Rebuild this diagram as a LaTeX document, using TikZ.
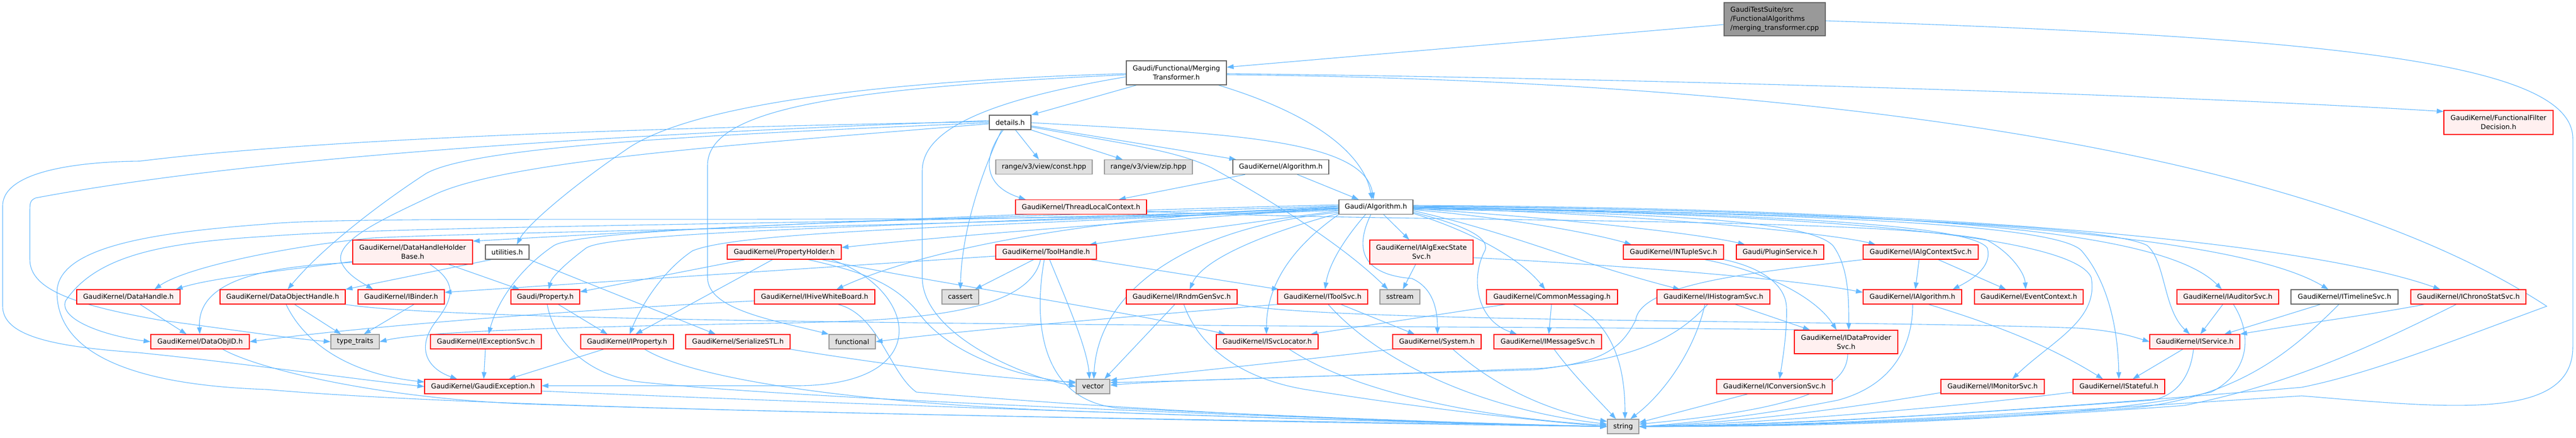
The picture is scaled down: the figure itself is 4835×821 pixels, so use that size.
\documentclass[tikz,border=0pt]{standalone}
\usepackage{fontspec}
\setmainfont{DejaVu Sans}
\usetikzlibrary{arrows.meta,backgrounds}
\definecolor{edgeblue}{HTML}{63B8FF}
\definecolor{redfill}{HTML}{FFF0F0}
\definecolor{grayfill}{HTML}{E0E0E0}
\definecolor{grayline}{HTML}{999999}
\definecolor{darkline}{HTML}{666666}
\definecolor{rootfill}{HTML}{999999}

\begin{document}
\begin{tikzpicture}[x=1pt,y=-1pt]
\tikzstyle{box} = [rectangle, inner sep=0pt, minimum height=27pt, line width=1.3pt,
align=center, font=\fontsize{12.8}{16.7}\selectfont]
\tikzstyle{redbox} = [box, draw=red, fill=redfill]
\tikzstyle{graybox} = [box, draw=grayline, fill=grayfill]
\tikzstyle{whitebox} = [box, draw=darkline, fill=white]
\tikzstyle{rootbox} = [box, draw=darkline, fill=rootfill, align=left]
\tikzstyle{line} = [draw=edgeblue, line width=1.1pt, -{Triangle[length=12.8pt,width=9pt]}]
\useasboundingbox (0,0) rectangle (4835,821);

% row 1
\node[rootbox, minimum width=190pt, minimum height=62pt] (root) at (3331,36) {GaudiTestSuite/src\\/FunctionalAlgorithms\\/merging\_transformer.cpp};
\node[whitebox, minimum width=188pt, minimum height=45pt] (merging) at (2208,136.5) {Gaudi/Functional/Merging\\Transformer.h};
\node[whitebox, minimum width=78pt] (details) at (1896,229.5) {details.h};
\node[redbox, minimum width=205pt, minimum height=45pt] (filterdec) at (4689.5,229.5) {GaudiKernel/FunctionalFilter\\Decision.h};
% row 2
\node[graybox, minimum width=181pt] (rconst) at (1959.5,313) {range/v3/view/const.hpp};
\node[graybox, minimum width=165pt] (rzip) at (2155.5,313) {range/v3/view/zip.hpp};
\node[whitebox, minimum width=180pt] (kalgo) at (2404,313) {GaudiKernel/Algorithm.h};
\node[redbox, minimum width=246pt] (tlc) at (2029,388) {GaudiKernel/ThreadLocalContext.h};
\node[whitebox, minimum width=139pt] (galgo) at (2582.5,388) {Gaudi/Algorithm.h};
% row 3
\node[redbox, minimum width=225pt, minimum height=45pt] (dhhb) at (774.5,472.5) {GaudiKernel/DataHandleHolder\\Base.h};
\node[whitebox, minimum width=82pt] (utils) at (952,472.5) {utilities.h};
\node[redbox, minimum width=214pt] (propholder) at (1472,472.5) {GaudiKernel/PropertyHolder.h};
\node[redbox, minimum width=189pt] (toolhandle) at (1963.5,472.5) {GaudiKernel/ToolHandle.h};
\node[redbox, minimum width=194pt, minimum height=45pt] (execstate) at (2668,472.5) {GaudiKernel/IAlgExecState\\Svc.h};
\node[redbox, minimum width=188pt] (ntuple) at (3141,472.5) {GaudiKernel/INTupleSvc.h};
\node[redbox, minimum width=164pt] (plugin) at (3341,472.5) {Gaudi/PluginService.h};
\node[redbox, minimum width=216pt] (algctx) at (3605,472.5) {GaudiKernel/IAlgContextSvc.h};
% row 4
\node[redbox, minimum width=194pt] (dhandle) at (241,556.5) {GaudiKernel/DataHandle.h};
\node[redbox, minimum width=235pt] (dobjhandle) at (530.5,556.5) {GaudiKernel/DataObjectHandle.h};
\node[redbox, minimum width=162pt] (binder) at (753,556.5) {GaudiKernel/IBinder.h};
\node[redbox, minimum width=129pt] (gprop) at (1023.5,556.5) {Gaudi/Property.h};
\node[redbox, minimum width=226pt] (whiteboard) at (1529,556.5) {GaudiKernel/IHiveWhiteBoard.h};
\node[graybox, minimum width=69pt] (cassert) at (1802.5,556.5) {cassert};
\node[redbox, minimum width=208pt] (rndm) at (2218,556.5) {GaudiKernel/IRndmGenSvc.h};
\node[redbox, minimum width=169pt] (toolsvc) at (2482.5,556.5) {GaudiKernel/IToolSvc.h};
\node[graybox, minimum width=75pt] (sstream) at (2627.5,556.5) {sstream};
\node[redbox, minimum width=246pt] (commonmsg) at (2913,556.5) {GaudiKernel/CommonMessaging.h};
\node[redbox, minimum width=212pt] (histo) at (3216,556.5) {GaudiKernel/IHistogramSvc.h};
\node[redbox, minimum width=185pt] (ialgo) at (3589.5,556.5) {GaudiKernel/IAlgorithm.h};
\node[redbox, minimum width=204pt] (evctx) at (3808,556.5) {GaudiKernel/EventContext.h};
\node[redbox, minimum width=191pt] (auditor) at (4181.5,556.5) {GaudiKernel/IAuditorSvc.h};
\node[whitebox, minimum width=201pt] (timeline) at (4400.5,556.5) {GaudiKernel/ITimelineSvc.h};
\node[redbox, minimum width=216pt] (chrono) at (4633,556.5) {GaudiKernel/IChronoStatSvc.h};
% row 5
\node[redbox, minimum width=185pt] (objid) at (375.5,640.5) {GaudiKernel/DataObjID.h};
\node[graybox, minimum width=91pt] (typetraits) at (666.5,640.5) {type\_traits};
\node[redbox, minimum width=208pt] (excsvc) at (912,640.5) {GaudiKernel/IExceptionSvc.h};
\node[redbox, minimum width=174pt] (iprop) at (1177,640.5) {GaudiKernel/IProperty.h};
\node[redbox, minimum width=196pt] (serialize) at (1385,640.5) {GaudiKernel/SerializeSTL.h};
\node[graybox, minimum width=87pt] (functional) at (1599.5,640.5) {functional};
\node[redbox, minimum width=191pt] (svcloc) at (2378.5,640.5) {GaudiKernel/ISvcLocator.h};
\node[redbox, minimum width=166pt] (system) at (2697,640.5) {GaudiKernel/System.h};
\node[redbox, minimum width=202pt] (msgsvc) at (2905,640.5) {GaudiKernel/IMessageSvc.h};
\node[redbox, minimum width=194pt, minimum height=44pt] (dataprov) at (3465,641) {GaudiKernel/IDataProvider\\Svc.h};
\node[redbox, minimum width=169pt] (iservice) at (4119.5,640.5) {GaudiKernel/IService.h};
% row 6
\node[redbox, minimum width=219pt] (gexc) at (906.5,724.5) {GaudiKernel/GaudiException.h};
\node[graybox, minimum width=63pt] (vector) at (2051.5,724.5) {vector};
\node[redbox, minimum width=217pt] (convsvc) at (3330.5,724.5) {GaudiKernel/IConversionSvc.h};
\node[redbox, minimum width=194pt] (monitor) at (3740,724.5) {GaudiKernel/IMonitorSvc.h};
\node[redbox, minimum width=172pt] (stateful) at (3977,724.5) {GaudiKernel/IStateful.h};
% row 7
\node[graybox, minimum width=59pt] (string) at (3046.5,799.5) {string};

\begin{pgfonlayer}{background}
% root file
\path[line] (root.west |- 0,46) -- (merging.east |- 0,126);
\path[line] (root.east |- 0,39) .. controls (4400,70) and (4829,120) .. (4829,260) -- (4829,650)
  .. controls (4829,790) and (4600,765) .. (4320,742) .. controls (3800,775) and (3400,800) .. (string.east);
% merging transformer
\path[line] (merging.south -| 2133,0) -- (details.north east);
\path[line] (merging.south -| 2287,0) .. controls (2470,215) and (2560,290) .. (galgo.north -| 2575,0);
\path[line] (merging.east |- 0,138) .. controls (3300,150) and (4200,185) .. (filterdec.west |- 0,209);
\path[line] (merging.east |- 0,140) .. controls (3300,150) and (4300,260) .. (4780,574)
  .. controls (4600,640) and (4450,700) .. (4320,726) .. controls (3800,770) and (3400,795) .. (string.east);
\path[line] (merging.west |- 0,138) .. controls (1700,150) and (1300,190) .. (1173,282)
  .. controls (1080,345) and (990,420) .. (utils.north -| 970,0);
\path[line] (merging.west |- 0,140) .. controls (1600,165) and (1328,200) .. (1328,310) -- (1328,520)
  .. controls (1328,580) and (1450,600) .. (functional.north west);
\path[line] (merging.west |- 0,144) .. controls (1900,180) and (1731,230) .. (1731,320) -- (1731,520)
  .. controls (1731,620) and (1900,700) .. (vector.west);
% details
\path[line] (details.south -| 1906,0) -- (rconst.north -| 1950,0);
\path[line] (details.south east) -- (rzip.north -| 2107,0);
\path[line] (details.east |- 0,236) -- (kalgo.north -| 2320,0);
\path[line] (details.east |- 0,230) .. controls (2300,250) and (2560,260) .. (galgo.north -| 2578,0);
\path[line] (details.east |- 0,238) .. controls (2100,268) and (2210,282) .. (2275,315)
  .. controls (2330,345) and (2500,440) .. (sstream.north -| 2605,0);
\path[line] (details.south -| 1883,0) .. controls (1840,300) and (1850,350) .. (tlc.north -| 1925,0);
\path[line] (details.south -| 1880,0) .. controls (1830,350) and (1805,450) .. (cassert.north);
\path[line] (details.west |- 0,230) .. controls (1400,250) and (900,270) .. (800,325)
  .. controls (700,390) and (600,470) .. (dobjhandle.north -| 540,0);
\path[line] (details.west |- 0,232) .. controls (1400,270) and (950,300) .. (813,366)
  .. controls (720,410) and (630,450) .. (640,490) .. controls (650,515) and (680,530) .. (binder.north -| 700,0);
\path[line] (details.west |- 0,228) .. controls (1200,240) and (600,260) .. (263,302)
  .. controls (150,303) and (5,320) .. (5,386) -- (5,574) .. controls (5,630) and (100,650) .. (260,661)
  .. controls (450,680) and (700,715) .. (gexc.west);
\path[line] (details.west |- 0,226) .. controls (1200,250) and (500,290) .. (67,371)
  .. controls (56,376) and (56,380) .. (56,400) -- (56,486) .. controls (56,540) and (130,570) .. (300,600)
  .. controls (450,620) and (550,635) .. (typetraits.west);
% GaudiKernel/Algorithm.h and ThreadLocalContext.h
\path[line] (kalgo.south -| 2337,0) -- (tlc.north -| 2100,0);
\path[line] (kalgo.south -| 2435,0) -- (galgo.north -| 2550,0);
\path[line] (tlc.east |- 0,396) .. controls (2600,418) and (3500,405) .. (3727,449)
  .. controls (3770,470) and (3800,510) .. (evctx.north -| 3802,0);
% Gaudi/Algorithm.h, to the left
\path[line] (galgo.west |- 0,395) -- (toolhandle.north -| 2045,0);
\path[line] (galgo.west |- 0,400) .. controls (2400,430) and (2260,480) .. (rndm.north -| 2233,0);
\path[line] (galgo.west |- 0,398) .. controls (2200,430) and (2060,560) .. (vector.north -| 2053,0);
\path[line] (galgo.south west) .. controls (2430,460) and (2377,530) .. (svcloc.north -| 2377,0);
\path[line] (galgo.west |- 0,391) .. controls (2200,410) and (1800,440) .. (propholder.east |- 0,464);
\path[line] (galgo.west |- 0,389) .. controls (2100,400) and (1750,460) .. (whiteboard.north -| 1570,0);
\path[line] (galgo.west |- 0,387) .. controls (1900,420) and (1150,430) .. (1100,465)
  .. controls (1060,495) and (1035,520) .. (gprop.north -| 1030,0);
\path[line] (galgo.west |- 0,390) .. controls (1900,425) and (1400,430) .. (1300,470)
  .. controls (1240,510) and (1200,580) .. (iprop.north -| 1182,0);
\path[line] (galgo.west |- 0,386) .. controls (1800,410) and (1100,425) .. (1040,460)
  .. controls (980,500) and (935,560) .. (excsvc.north -| 917,0);
\path[line] (galgo.west |- 0,384) .. controls (1800,400) and (1100,440) .. (dhhb.east |- 0,452);
\path[line] (galgo.west |- 0,392) .. controls (1800,425) and (1000,432) .. (700,446)
  .. controls (550,460) and (350,500) .. (dhandle.north -| 290,0);
\path[line] (galgo.west |- 0,390) .. controls (1800,420) and (800,420) .. (500,443)
  .. controls (300,455) and (180,480) .. (123,564) .. controls (110,600) and (200,630) .. (objid.west);
\path[line] (galgo.west |- 0,394) .. controls (1800,425) and (700,400) .. (500,420)
  .. controls (300,435) and (107,460) .. (107,548) .. controls (107,640) and (200,720) .. (500,730)
  .. controls (1000,775) and (2600,790) .. (string.west);
% Gaudi/Algorithm.h, downwards
\path[line] (galgo.south -| 2563,0) .. controls (2530,440) and (2495,490) .. (toolsvc.north -| 2487,0);
\path[line] (galgo.south -| 2573,0) .. controls (2540,470) and (2560,515) .. (2650,522)
  .. controls (2690,540) and (2698,580) .. (system.north -| 2698,0);
\path[line] (galgo.south -| 2597,0) -- (execstate.north -| 2645,0);
% Gaudi/Algorithm.h, to the right
\path[line] (galgo.east |- 0,400) .. controls (2750,430) and (2850,480) .. (commonmsg.north -| 2900,0);
\path[line] (galgo.east |- 0,398) .. controls (2720,415) and (2800,440) .. (2787,470)
  .. controls (2760,520) and (2770,600) .. (msgsvc.north -| 2847,0);
\path[line] (galgo.east |- 0,393) .. controls (2850,410) and (3000,440) .. (ntuple.north -| 3062,0);
\path[line] (galgo.east |- 0,391) .. controls (2950,410) and (3200,440) .. (plugin.north -| 3275,0);
\path[line] (galgo.east |- 0,390) .. controls (3100,400) and (3450,440) .. (algctx.north -| 3520,0);
\path[line] (galgo.east |- 0,395) .. controls (2850,440) and (2950,490) .. (histo.north -| 3153,0);
\path[line] (galgo.east |- 0,392) .. controls (3200,400) and (3400,420) .. (3440,460)
  .. controls (3470,500) and (3470,560) .. (dataprov.north -| 3470,0);
\path[line] (galgo.east |- 0,389) .. controls (3300,400) and (3700,420) .. (3730,465)
  .. controls (3740,500) and (3700,525) .. (ialgo.north -| 3665,0);
\path[line] (galgo.east |- 0,388) .. controls (3400,400) and (3950,420) .. (4030,460)
  .. controls (4065,490) and (4060,580) .. (iservice.north -| 4110,0);
\path[line] (galgo.east |- 0,389) .. controls (3400,400) and (3860,420) .. (3907,470)
  .. controls (3950,520) and (3975,600) .. (stateful.north);
\path[line] (galgo.east |- 0,390) .. controls (3400,400) and (3890,440) .. (3925,520)
  .. controls (3940,600) and (3850,640) .. (monitor.north -| 3777,0);
\path[line] (galgo.east |- 0,387) .. controls (3500,395) and (4050,420) .. (auditor.north -| 4170,0);
\path[line] (galgo.east |- 0,386) .. controls (3600,395) and (4200,440) .. (timeline.north -| 4370,0);
\path[line] (galgo.east |- 0,385) .. controls (3700,390) and (4350,460) .. (chrono.north -| 4580,0);
% left part
\path[line] (utils.south -| 922,0) -- (dobjhandle.north east);
\path[line] (utils.south east) -- (serialize.north -| 1343,0);
\path[line] (dhhb.west |- 0,490) .. controls (550,505) and (400,520) .. (dhandle.north -| 330,0);
\path[line] (dhhb.west |- 0,492) .. controls (480,500) and (370,530) .. (objid.north -| 375,0);
\path[line] (dhhb.south -| 807,0) .. controls (860,530) and (850,560) .. (820,600)
  .. controls (780,650) and (800,690) .. (gexc.north -| 858,0);
\path[line] (dhhb.south -| 842,0) -- (gprop.north -| 975,0);
\path[line] (dhandle.south -| 263,0) -- (objid.north -| 350,0);
\path[line] (objid.south -| 418,0) .. controls (480,690) and (700,745) .. (980,757)
  .. controls (1500,775) and (2600,795) .. (string.west);
\path[line] (dobjhandle.south -| 553,0) -- (typetraits.north -| 640,0);
\path[line] (dobjhandle.south -| 537,0) .. controls (570,640) and (650,700) .. (gexc.west |- 0,716);
\path[line] (dobjhandle.south east) .. controls (900,612) and (2800,610) .. (dataprov.north -| 3397,0);
\path[line] (binder.south -| 777,0) -- (typetraits.north -| 683,0);
\path[line] (gprop.south -| 1048,0) -- (iprop.north -| 1140,0);
\path[line] (gprop.south -| 1027,0) .. controls (1040,640) and (1100,700) .. (1193,715)
  .. controls (1500,750) and (2600,790) .. (string.west);
\path[line] (excsvc.south -| 911,0) -- (gexc.north -| 908,0);
\path[line] (iprop.south -| 1133,0) -- (gexc.north -| 955,0);
\path[line] (iprop.south -| 1210,0) .. controls (1300,710) and (1600,755) .. (2000,770)
  .. controls (2400,785) and (2800,795) .. (string.west);
\path[line] (serialize.south east) .. controls (1700,690) and (1900,712) .. (vector.west |- 0,716);
\path[line] (gexc.east |- 0,733) .. controls (1400,750) and (2500,790) .. (string.west);
% middle part
\path[line] (toolhandle.west |- 0,480) -- (binder.east |- 0,548);
\path[line] (toolhandle.south -| 2047,0) -- (toolsvc.north -| 2400,0);
\path[line] (toolhandle.south -| 1970,0) .. controls (2000,560) and (2040,650) .. (vector.north -| 2045,0);
\path[line] (toolhandle.south -| 1960,0) .. controls (1940,600) and (1950,750) .. (2100,765)
  .. controls (2400,780) and (2800,795) .. (string.west);
\path[line] (toolhandle.south -| 1953,0) .. controls (1930,590) and (1700,600) .. (1500,605)
  .. controls (1100,612) and (800,620) .. (typetraits.east);
\path[line] (toolhandle.south -| 1940,0) -- (cassert.north -| 1830,0);
\path[line] (propholder.south -| 1398,0) -- (gprop.east |- 0,547);
\path[line] (propholder.south -| 1450,0) -- (iprop.north -| 1193,0);
\path[line] (propholder.south -| 1543,0) .. controls (1750,530) and (2100,580) .. (svcloc.north -| 2300,0);
\path[line] (propholder.south -| 1517,0) .. controls (1620,510) and (1680,530) .. (1727,590)
  .. controls (1780,660) and (1900,705) .. (vector.west |- 0,718);
\path[line] (propholder.south -| 1560,0) .. controls (1720,540) and (1760,720) .. (1500,723) -- (gexc.east |- 0,723);
\path[line] (whiteboard.west |- 0,564) .. controls (1100,580) and (700,610) .. (objid.east);
\path[line] (whiteboard.south -| 1573,0) .. controls (1650,590) and (1670,700) .. (1720,735)
  .. controls (2200,775) and (2700,795) .. (string.west);
\path[line] (rndm.south -| 2205,0) -- (vector.north -| 2073,0);
\path[line] (rndm.south -| 2222,0) .. controls (2250,650) and (2330,710) .. (2450,730)
  .. controls (2700,770) and (2900,790) .. (string.west);
\path[line] (rndm.south east) .. controls (2500,605) and (3500,600) .. (3900,615)
  .. controls (3970,620) and (4000,630) .. (iservice.west);
\path[line] (toolsvc.south -| 2517,0) -- (system.north -| 2655,0);
\path[line] (toolsvc.south -| 2493,0) .. controls (2600,690) and (2800,770) .. (string.west |- 0,795);
\path[line] (toolsvc.south west) .. controls (2100,595) and (1800,620) .. (functional.east);
\path[line] (execstate.south -| 2657,0) -- (sstream.north -| 2633,0);
\path[line] (execstate.east |- 0,483) .. controls (3000,495) and (3350,520) .. (ialgo.west |- 0,548);
\path[line] (commonmsg.south -| 2912,0) -- (msgsvc.north -| 2907,0);
\path[line] (commonmsg.south -| 2953,0) .. controls (3030,610) and (3050,690) .. (string.north -| 3050,0);
\path[line] (commonmsg.south -| 2825,0) -- (svcloc.north -| 2460,0);
\path[line] (system.south -| 2727,0) .. controls (2800,720) and (2900,770) .. (string.west |- 0,790);
\path[line] (system.south west) .. controls (2400,680) and (2200,700) .. (vector.east |- 0,713);
\path[line] (msgsvc.south -| 2917,0) .. controls (2950,700) and (3000,750) .. (string.north -| 3033,0);
\path[line] (svcloc.south -| 2420,0) .. controls (2550,740) and (2800,785) .. (string.west |- 0,797);
% right part
\path[line] (histo.south -| 3257,0) -- (dataprov.north -| 3397,0);
\path[line] (histo.south -| 3200,0) .. controls (3180,660) and (3120,740) .. (string.north -| 3060,0);
\path[line] (histo.south -| 3205,0) .. controls (3150,630) and (3080,670) .. (2900,690)
  .. controls (2500,705) and (2200,715) .. (vector.east |- 0,717);
\path[line] (algctx.south west) .. controls (3300,510) and (3080,530) .. (3070,600)
  .. controls (3040,660) and (3000,680) .. (2880,693) .. controls (2500,705) and (2200,712) .. (vector.east |- 0,722);
\path[line] (algctx.south -| 3602,0) -- (ialgo.north -| 3595,0);
\path[line] (algctx.south -| 3638,0) -- (evctx.north -| 3765,0);
\path[line] (ntuple.south east) .. controls (3300,500) and (3350,530) .. (3353,574)
  .. controls (3355,620) and (3345,680) .. (convsvc.north -| 3340,0);
\path[line] (ntuple.south -| 3200,0) .. controls (3320,510) and (3410,560) .. (dataprov.north -| 3447,0);
\path[line] (dataprov.south -| 3468,0) .. controls (3467,720) and (3400,765) .. (string.east |- 0,795);
\path[line] (convsvc.south -| 3280,0) -- (string.east |- 0,792);
\path[line] (ialgo.south -| 3620,0) .. controls (3750,610) and (3850,650) .. (stateful.north -| 3947,0);
\path[line] (ialgo.south -| 3590,0) .. controls (3590,640) and (3560,720) .. (3450,750)
  .. controls (3300,780) and (3150,795) .. (string.east);
\path[line] (monitor.west |- 0,736) .. controls (3500,760) and (3300,790) .. (string.east);
\path[line] (stateful.west |- 0,735) .. controls (3700,760) and (3300,795) .. (string.east);
\path[line] (iservice.south -| 4097,0) -- (stateful.north -| 4003,0);
\path[line] (iservice.south -| 4117,0) .. controls (4112,700) and (4090,740) .. (4040,750)
  .. controls (3700,775) and (3300,800) .. (string.east);
\path[line] (auditor.south -| 4172,0) -- (iservice.north -| 4130,0);
\path[line] (auditor.south -| 4192,0) .. controls (4230,630) and (4220,700) .. (4150,735)
  .. controls (3900,790) and (3400,800) .. (string.east);
\path[line] (timeline.south -| 4355,0) -- (iservice.north -| 4175,0);
\path[line] (timeline.south -| 4390,0) .. controls (4300,660) and (4200,745) .. (4000,765)
  .. controls (3600,790) and (3300,800) .. (string.east);
\path[line] (chrono.south -| 4550,0) .. controls (4450,590) and (4300,610) .. (iservice.north east);
\path[line] (chrono.south -| 4610,0) .. controls (4450,650) and (4300,720) .. (4100,760)
  .. controls (3700,790) and (3300,800) .. (string.east);
\end{pgfonlayer}
\end{tikzpicture}
\end{document}
